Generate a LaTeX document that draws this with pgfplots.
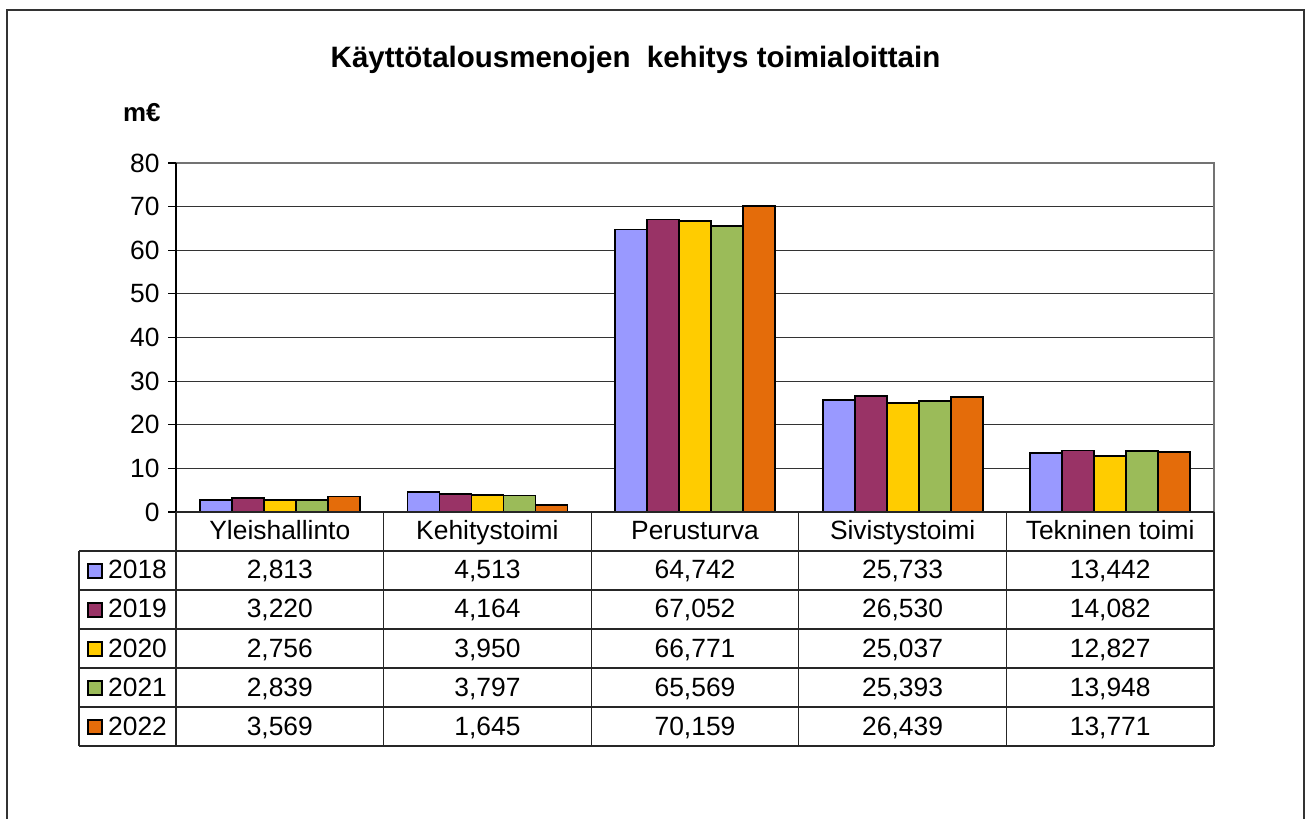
\documentclass[border=0pt]{standalone}
\usepackage{fontspec}
\setmainfont{Liberation Sans}
\usepackage{pgfplots}
\pgfplotsset{compat=1.18}
\definecolor{c18}{HTML}{9999FF}
\definecolor{c19}{HTML}{993366}
\definecolor{c20}{HTML}{FFCC00}
\definecolor{c21}{HTML}{9BBB59}
\definecolor{c22}{HTML}{E46C0A}
\newcommand\tfont{\fontsize{26.5}{31}\selectfont}
\newcommand\trow[8]{%
  \filldraw[fill=#2, draw=black, line width=1.5bp] (88,{#1+1}) rectangle (102,{#1+15});
  \node[anchor=base west, inner sep=0] at (108,#1) {\tfont #3};
  \node[anchor=base, inner sep=0] at (279.8,#1) {\tfont #4};
  \node[anchor=base, inner sep=0] at (487.4,#1) {\tfont #5};
  \node[anchor=base, inner sep=0] at (695.0,#1) {\tfont #6};
  \node[anchor=base, inner sep=0] at (902.6,#1) {\tfont #7};
  \node[anchor=base, inner sep=0] at (1110.2,#1) {\tfont #8};
}
\begin{document}
\begin{tikzpicture}[x=1bp,y=1bp]
\useasboundingbox (0,0) rectangle (1305,818);
\draw[line width=2bp, black!80] (7,-2) -- (7,808) -- (1304,808) -- (1304,-2);
\node[anchor=base, inner sep=0, font=\fontsize{29.6}{34}\selectfont\bfseries] at (635.5,750) {Käyttötalousmenojen\ \ kehitys toimialoittain};
\node[anchor=base west, inner sep=0, font=\fontsize{26}{30}\selectfont\bfseries] at (123,696) {m€};
\begin{axis}[at={(176bp,306bp)}, anchor=south west, scale only axis,
  width=1038bp, height=349bp,
  ybar=0pt, bar width=32bp,
  xmin=-0.5, xmax=4.5, ymin=0, ymax=80,
  ytick={0,10,...,80}, xtick=\empty,
  axis line style={draw=none},
  ymajorgrids, grid style={black!80, line width=1.2bp},
  tick align=outside, major tick length=8bp, ytick pos=left,
  tick style={black, line width=1.2bp},
  yticklabel style={font=\tfont, xshift=-5bp},
  /pgf/number format/assume math mode=true,
  clip=false]
\addplot[fill=c18, draw=black, line width=1.8bp] coordinates {(0,2.813) (1,4.513) (2,64.742) (3,25.733) (4,13.442)};
\addplot[fill=c19, draw=black, line width=1.8bp] coordinates {(0,3.220) (1,4.164) (2,67.052) (3,26.530) (4,14.082)};
\addplot[fill=c20, draw=black, line width=1.8bp] coordinates {(0,2.756) (1,3.950) (2,66.771) (3,25.037) (4,12.827)};
\addplot[fill=c21, draw=black, line width=1.8bp] coordinates {(0,2.839) (1,3.797) (2,65.569) (3,25.393) (4,13.948)};
\addplot[fill=c22, draw=black, line width=1.8bp] coordinates {(0,3.569) (1,1.645) (2,70.159) (3,26.439) (4,13.771)};
\draw[black!55, line width=1.5bp] (axis cs:-0.5,80) -- (axis cs:4.5,80) -- (axis cs:4.5,0);
\draw[black, line width=1.5bp] (axis cs:-0.5,0) -- (axis cs:-0.5,80);
\end{axis}
% data table
\begin{scope}[black!85, line width=1.3bp]
\draw (176,306) -- (1214,306);
\foreach \yy in {267,228,189,150,111,72} \draw (79,\yy) -- (1214,\yy);
\draw (79,267) -- (79,72);
\foreach \xx in {176,383.6,591.2,798.8,1006.4,1214} \draw (\xx,306) -- (\xx,72);
\end{scope}
\node[anchor=base, inner sep=0] at (279.8,278) {\tfont Yleishallinto};
\node[anchor=base, inner sep=0] at (487.4,278) {\tfont Kehitystoimi};
\node[anchor=base, inner sep=0] at (695.0,278) {\tfont Perusturva};
\node[anchor=base, inner sep=0] at (902.6,278) {\tfont Sivistystoimi};
\node[anchor=base, inner sep=0] at (1110.2,278) {\tfont Tekninen toimi};
\trow{239}{c18}{2018}{2,813}{4,513}{64,742}{25,733}{13,442}
\trow{200}{c19}{2019}{3,220}{4,164}{67,052}{26,530}{14,082}
\trow{161}{c20}{2020}{2,756}{3,950}{66,771}{25,037}{12,827}
\trow{122}{c21}{2021}{2,839}{3,797}{65,569}{25,393}{13,948}
\trow{83}{c22}{2022}{3,569}{1,645}{70,159}{26,439}{13,771}
\end{tikzpicture}
\end{document}
